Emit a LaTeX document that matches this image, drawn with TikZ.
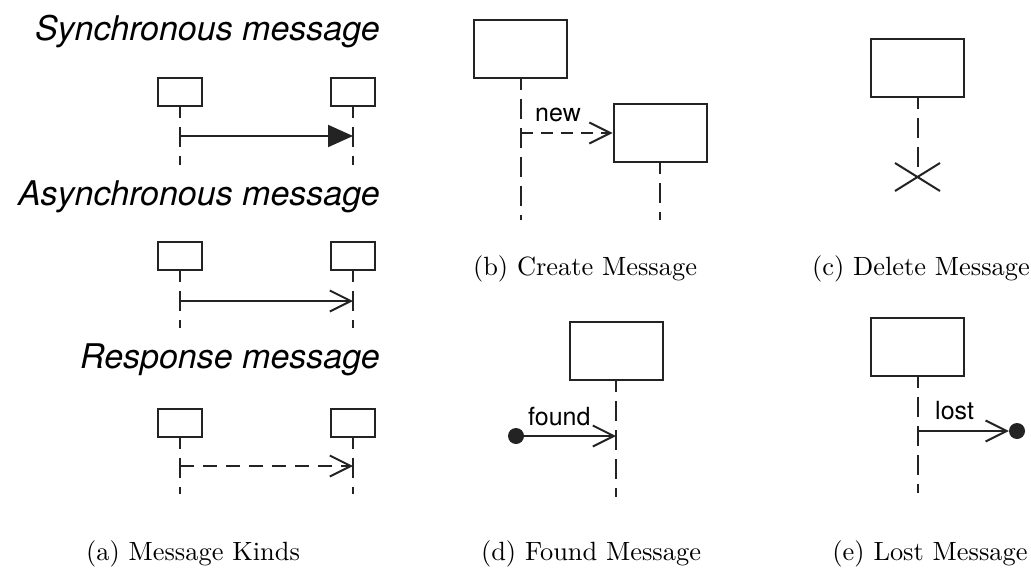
\documentclass[tikz,border=0pt]{standalone}
\usepackage{fontspec}
\newfontfamily\heros{TeX Gyre Heros}
\newfontfamily\lmten{lmroman10-regular.otf}
\usetikzlibrary{arrows.meta}
\definecolor{lc}{RGB}{35,35,35}
\tikzset{
  lbox/.style={draw=lc, line width=2pt, fill=white, minimum width=93pt, minimum height=58pt, inner sep=0pt},
  sbox/.style={draw=lc, line width=2pt, fill=white, minimum width=44pt, minimum height=28pt, inner sep=0pt},
  life/.style={draw=lc, line width=2pt, dash pattern=on 20pt off 9pt, dash phase=9pt},
  msg/.style={draw=lc, line width=2pt},
  opentip/.style={-{Straight Barb[length=21pt, width=21pt]}},
  synctip/.style={-{Triangle[length=25pt, width=22pt]}},
  dmsg/.style={msg, dash pattern=on 14pt off 9pt},
  titletxt/.style={font=\heros\itshape\fontsize{34}{40}\selectfont, anchor=base east, inner sep=0pt},
  labtxt/.style={font=\heros\fontsize{25}{30}\selectfont, anchor=base west, inner sep=0pt},
  captxt/.style={font=\lmten\fontsize{26.4}{31}\selectfont, anchor=base, inner sep=0pt},
  enddot/.style={circle, fill=lc, minimum size=16pt, inner sep=0pt}
}
\begin{document}
\begin{tikzpicture}[x=1pt, y=-1pt]
\useasboundingbox (0,0) rectangle (1031,570);
% ---------- (a) ----------
\node[titletxt] (t1) at (380,40) {Synchronous message};
\node[titletxt] (t2) at (380,205) {Asynchronous message};
\node[titletxt] (t3) at (380,368) {Response message};
\foreach \r/\y/\ay/\e in {1/91.5/136/165, 2/256/301/328, 3/422.5/466/494}{
  \node[sbox] (aL\r) at (180,\y) {};
  \node[sbox] (aR\r) at (353,\y) {};
  \coordinate (aLe\r) at (180,\e);
  \coordinate (aRe\r) at (353,\e);
  \draw[life] (aL\r.south) -- (aLe\r);
  \draw[life] (aR\r.south) -- (aRe\r);
  \coordinate (aS\r) at (180,\ay);
  \coordinate (aT\r) at (353,\ay);
}
\draw[msg, synctip] (aS1) -- (aT1);
\draw[msg, opentip] (aS2) -- (aT2);
\draw[dmsg, opentip] (aS3) -- (aT3);
\node[captxt] (capa) at (193,560) {(a) Message Kinds};
% ---------- (b) ----------
\node[lbox] (b1) at (520.5,48.5) {};
\node[lbox] (b2) at (660,133) {};
\coordinate (b1e) at (520.5,220);
\coordinate (b2e) at (660,220);
\draw[life] (b1.south) -- (b1e);
\draw[life] (b2.south) -- (b2e);
\coordinate (bs) at (520.5,133);
\draw[msg, dash pattern=on 12pt off 8pt, opentip] (bs) -- (b2.west);
\node[labtxt] (new) at (535,121) {new};
\node[captxt] (capb) at (585,275) {(b) Create Message};
% ---------- (c) ----------
\node[lbox] (c1) at (917.5,68) {};
\coordinate (cx) at (917.5,177);
\draw[life] (c1.south) -- (cx);
\coordinate (cx1) at (895,163);
\coordinate (cx2) at (940,191);
\coordinate (cx3) at (895,191);
\coordinate (cx4) at (940,163);
\draw[msg] (cx1) -- (cx2);
\draw[msg] (cx3) -- (cx4);
\node[captxt] (capc) at (921,275) {(c) Delete Message};
% ---------- (d) ----------
\node[lbox] (d1) at (616,351) {};
\coordinate (d1e) at (616,497);
\draw[life] (d1.south) -- (d1e);
\node[enddot] (ddot) at (516,436) {};
\coordinate (dt) at (616,436);
\draw[msg, opentip] (ddot.center) -- (dt);
\node[labtxt] (found) at (528,425) {found};
\node[captxt] (capd) at (591,560) {(d) Found Message};
% ---------- (e) ----------
\node[lbox] (e1) at (917.5,346.5) {};
\coordinate (e1e) at (917.5,493);
\draw[life] (e1.south) -- (e1e);
\node[enddot] (edot) at (1017,431) {};
\coordinate (es) at (917.5,431);
\draw[msg, opentip] (es) -- (edot.west);
\node[labtxt] (lost) at (935,419) {lost};
\node[captxt] (cape) at (930,560) {(e) Lost Message};
\end{tikzpicture}
\end{document}
